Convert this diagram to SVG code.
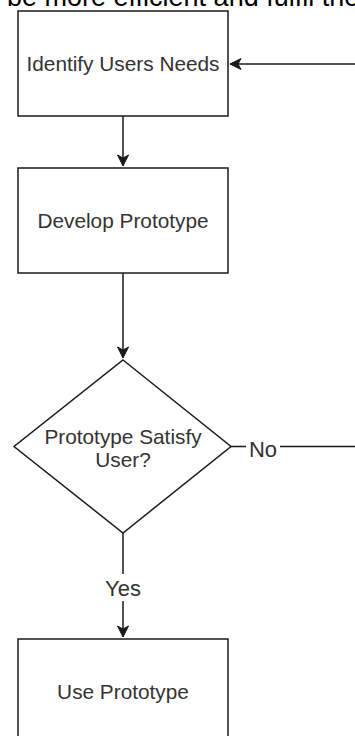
<svg xmlns="http://www.w3.org/2000/svg" width="355" height="736" viewBox="0 0 355 736">
  <defs>
    <style>
      .node { fill: #ffffff; stroke: #1a1a1a; stroke-width: 1.5; }
      .label { font-family: "Liberation Sans", Arial, sans-serif; font-size: 20.8px; fill: #333333; text-anchor: middle; }
      .edge-label { font-family: "Liberation Sans", Arial, sans-serif; font-size: 22px; fill: #333333; text-anchor: middle; }
      .edge { fill: none; stroke: #1a1a1a; stroke-width: 1.5; }
      .heading { font-family: "Liberation Sans", Arial, sans-serif; font-size: 27px; fill: #000000; }
    </style>
    <marker id="arrow" markerUnits="userSpaceOnUse" markerWidth="14" markerHeight="14" viewBox="0 0 14 14" refX="12" refY="7" orient="auto">
      <path d="M12,7 L1,1.5 L4,7 L1,12.5 Z" fill="#1a1a1a" stroke="#1a1a1a" stroke-width="1"/>
    </marker>
  </defs>

  <rect width="355" height="736" fill="#ffffff"/>

  <!-- trailing line of the surrounding page text -->
  <text class="heading" x="7" y="6">be more efficient and fulfil the</text>

  <!-- connectors -->
  <g id="connectors">
    <path class="edge" d="M123,116 V166" marker-end="url(#arrow)"/>
    <path class="edge" d="M123,273 V358" marker-end="url(#arrow)"/>
    <path class="edge" d="M123,533 V637" marker-end="url(#arrow)"/>
    <path class="edge" d="M231,446.5 H355"/>
    <path class="edge" d="M355,64 H230" marker-end="url(#arrow)"/>
    <rect x="246" y="436" width="34" height="22" fill="#ffffff"/>
    <text class="edge-label" x="263" y="457">No</text>
    <rect x="102" y="574" width="42" height="27" fill="#ffffff"/>
    <text class="edge-label" x="123" y="596">Yes</text>
  </g>

  <g id="identify-users-needs">
    <rect class="node" x="18" y="11" width="210" height="105"/>
    <text class="label" x="123" y="70.5">Identify Users Needs</text>
  </g>

  <g id="develop-prototype">
    <rect class="node" x="18" y="168" width="210" height="105"/>
    <text class="label" x="123" y="228">Develop Prototype</text>
  </g>

  <g id="prototype-satisfy-user">
    <polygon class="node" points="123,360 231,446.5 123,533 14,446.5"/>
    <text class="label" x="123" y="444">Prototype Satisfy</text>
    <text class="label" x="123" y="467">User?</text>
  </g>

  <g id="use-prototype">
    <rect class="node" x="18" y="639" width="210" height="110"/>
    <text class="label" x="123" y="699">Use Prototype</text>
  </g>
</svg>
